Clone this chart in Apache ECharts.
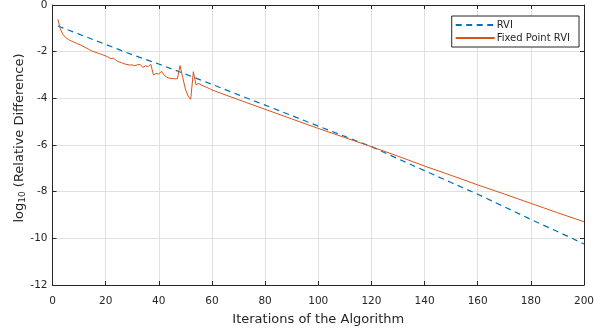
<!DOCTYPE html>
<html>
<head>
<meta charset="utf-8">
<script src="https://cdn.jsdelivr.net/npm/echarts@6/dist/echarts.min.js"></script>
<style>html,body{margin:0;padding:0;background:#fff}#c{width:595px;height:330px}</style>
</head>
<body>
<div id="c"></div>
<script>
// RVI (dashed) samples: iteration, log10 relative difference
var rviIter = [2, 10, 20, 30, 40, 50, 60, 70, 80, 90, 100, 110, 120, 130, 140, 150, 160, 170, 180, 190, 200];
var rviVal = [-0.90, -1.25, -1.69, -2.13, -2.53, -2.96, -3.40, -3.85, -4.29, -4.74, -5.19, -5.63, -6.07, -6.59, -7.10, -7.61, -8.11, -8.65, -9.19, -9.71, -10.24];

// Fixed Point RVI samples
var fpIter = [2, 3, 4, 5, 6, 7, 8, 9, 10, 11, 12, 13, 14, 15, 16, 17, 18, 19, 20, 21, 22, 23, 24, 25, 26, 27, 28, 29, 30,
  31, 32, 33, 34, 35, 36, 37, 38, 39, 40, 41, 42, 43, 44, 45, 46, 47, 48, 49, 50, 51, 52, 53, 54, 55, 56, 57, 58, 59, 60,
  70, 80, 90, 100, 110, 120, 130, 140, 150, 160, 170, 180, 190, 200];
var fpVal = [-0.61, -1.05, -1.27, -1.40, -1.48, -1.54, -1.59, -1.64, -1.69, -1.74, -1.80, -1.86, -1.92, -1.98, -2.02, -2.06, -2.10, -2.14, -2.18, -2.24, -2.30, -2.28, -2.38, -2.44, -2.47, -2.52, -2.55, -2.57, -2.57,
  -2.60, -2.56, -2.55, -2.68, -2.60, -2.64, -2.54, -3.00, -2.93, -2.96, -2.84, -3.00, -3.10, -3.14, -3.15, -3.16, -3.16, -2.60, -3.10, -3.60, -3.90, -4.04, -2.86, -3.42, -3.36, -3.43, -3.48, -3.53, -3.58, -3.64,
  -4.06, -4.47, -4.88, -5.29, -5.68, -6.07, -6.48, -6.90, -7.30, -7.71, -8.10, -8.50, -8.90, -9.29];

var xTicks = {min: 0, max: 200, interval: 20};
var yTicks = {min: -12, max: 0, interval: 2};

function pairs(xs, ys) { return xs.map(function (x, i) { return [x, ys[i]]; }); }

var FONT = 'DejaVu Sans';
var AX = '#262626';

var chart = echarts.init(document.getElementById('c'), null, {renderer: 'canvas'});
chart.setOption({
  animation: false,
  backgroundColor: '#fff',
  textStyle: {fontFamily: FONT, color: AX},
  grid: {left: 52.5, right: 11, top: 5, bottom: 45, containLabel: false, outerBoundsMode: 'none'},
  legend: {
    orient: 'vertical', right: 16, top: 16,
    backgroundColor: '#fff', borderColor: AX, borderWidth: 1, borderRadius: 0,
    padding: [4, 9, 4, 3], itemGap: 3, itemWidth: 39, itemHeight: 10,
    itemStyle: {opacity: 0},
    textStyle: {fontFamily: FONT, fontSize: 10, color: AX, padding: [0, 0, 0, -3]},
    data: ['RVI', 'Fixed Point RVI']
  },
  xAxis: [{
    type: 'value', min: xTicks.min, max: xTicks.max, interval: xTicks.interval,
    name: 'Iterations of the Algorithm', nameLocation: 'middle', nameGap: 28, nameMoveOverlap: false,
    nameTextStyle: {fontFamily: FONT, fontSize: 13, color: AX},
    axisLine: {show: true, onZero: false, lineStyle: {color: AX, width: 1}},
    axisTick: {show: true, inside: true, length: 4, lineStyle: {color: AX}},
    axisLabel: {fontFamily: FONT, fontSize: 10.5, color: AX, margin: 11},
    splitLine: {show: true, lineStyle: {color: '#e0e0e0', width: 1}}
  }, {
    type: 'value', position: 'top', min: xTicks.min, max: xTicks.max, interval: xTicks.interval,
    axisLine: {show: true, onZero: false, lineStyle: {color: AX, width: 1}},
    axisTick: {show: true, inside: true, length: 4, lineStyle: {color: AX}},
    axisLabel: {show: false}, splitLine: {show: false}
  }],
  yAxis: [{
    type: 'value', min: yTicks.min, max: yTicks.max, interval: yTicks.interval,
    name: '{a|log}{s|10}{a| (Relative Difference)}', nameLocation: 'middle', nameGap: 25, nameRotate: 90,
    nameMoveOverlap: false,
    nameTextStyle: {fontFamily: FONT, color: AX, padding: [0, 0, 0, 14], rich: {
      a: {fontFamily: FONT, fontSize: 13, color: AX},
      s: {fontFamily: FONT, fontSize: 9, color: AX, padding: [7, 0, 0, 0]}
    }},
    axisLine: {show: true, onZero: false, lineStyle: {color: AX, width: 1}},
    axisTick: {show: true, inside: true, length: 4, lineStyle: {color: AX}},
    axisLabel: {fontFamily: FONT, fontSize: 10.5, color: AX, margin: 5},
    splitLine: {show: true, lineStyle: {color: '#e0e0e0', width: 1}}
  }, {
    type: 'value', position: 'right', min: yTicks.min, max: yTicks.max, interval: yTicks.interval,
    axisLine: {show: true, onZero: false, lineStyle: {color: AX, width: 1}},
    axisTick: {show: true, inside: true, length: 4, lineStyle: {color: AX}},
    axisLabel: {show: false}, splitLine: {show: false}
  }],
  series: [{
    name: 'RVI', type: 'line', xAxisIndex: 0, yAxisIndex: 0,
    data: pairs(rviIter, rviVal), symbol: 'none', showSymbol: false,
    lineStyle: {color: '#0072BD', width: 1.2, type: [6, 4.5]}, itemStyle: {color: '#0072BD'}
  }, {
    name: 'Fixed Point RVI', type: 'line', xAxisIndex: 0, yAxisIndex: 0,
    data: pairs(fpIter, fpVal), symbol: 'none', showSymbol: false,
    lineStyle: {color: '#D95319', width: 1}, itemStyle: {color: '#D95319'}
  }]
});
</script>
</body>
</html>
